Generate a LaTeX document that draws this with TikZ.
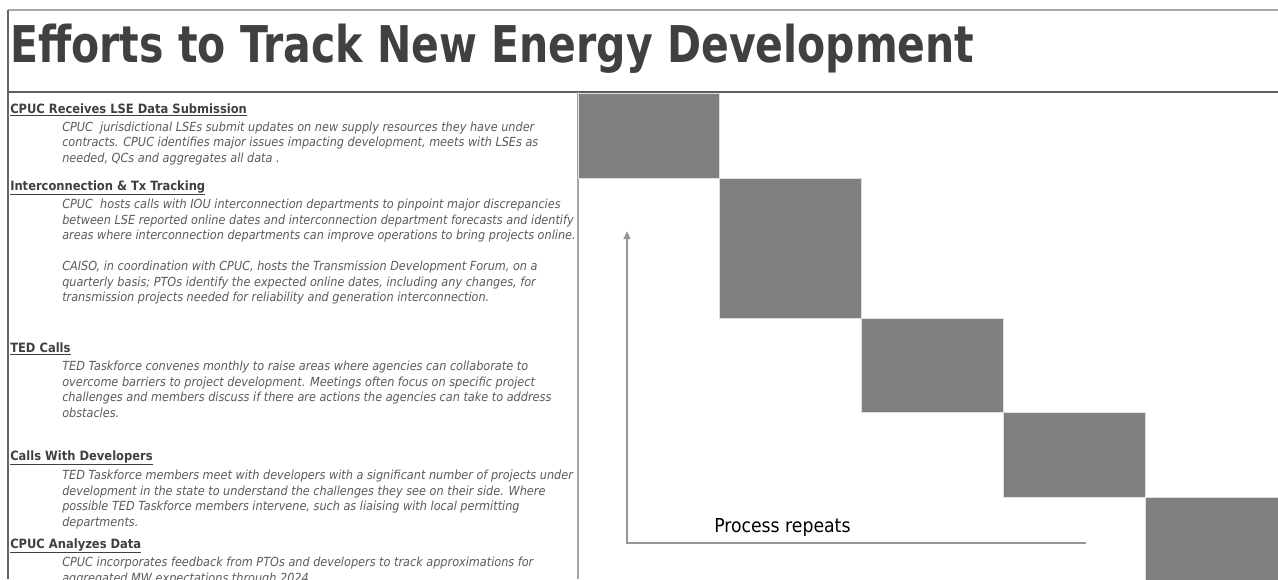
\documentclass[tikz,border=0pt]{standalone}
\usepackage{fontspec}
\setmainfont{DejaVu Sans Condensed}[BoldFont={DejaVu Sans Condensed Bold},ItalicFont={DejaVu Sans Condensed Oblique}]
\usetikzlibrary{positioning}
\usetikzlibrary{arrows.meta}
\usepackage{xcolor}
\definecolor{hdgrey}{HTML}{404040}
\definecolor{txtgrey}{HTML}{5A5A5A}
\definecolor{blockgrey}{HTML}{808080}
\definecolor{rulegrey}{HTML}{A6A6A6}

\begin{document}
\begin{tikzpicture}[x=0.75pt,y=-0.75pt,
	head/.style={anchor=base west,inner sep=0pt,text=hdgrey,font=\fontsize{9.6}{11.6}\selectfont\bfseries},
	body/.style={anchor=north west,inner sep=0pt,align=left,text=txtgrey,font=\fontsize{9.4}{11.6}\selectfont\itshape},
	block/.style={fill=blockgrey,draw=gray!25,line width=0.6pt},
	loop/.style={draw=rulegrey!90!black,line width=1.5pt,-{Triangle[length=6pt,width=5pt]}}]
	    \useasboundingbox (0,0) rectangle (1278,579);
	    % frame
	    \draw[rulegrey,line width=1.5pt] (8,10) -- (1278,10);
	    \draw[hdgrey!80,line width=1.2pt] (8,10) -- (8,579);
	    \node(title) [anchor=base west,inner sep=0pt,text=hdgrey,font=\fontsize{38}{40}\selectfont\bfseries] at (10,62) {\scalebox{0.9}[1]{Efforts to Track New Energy Development}};
	    \draw[hdgrey!85,line width=1.5pt] (8,92) -- (1278,92);
	    \draw[rulegrey,line width=0.8pt] (578,92) -- (578,579);
	    % left column
	    \node(recv) [head] at (10,113) {\underline{CPUC Receives LSE Data Submission}};
	    \node(recvtxt) [body] at (62,121.5) {CPUC\ \ jurisdictional LSEs submit updates on new supply resources they have under\\contracts. CPUC identifies major issues impacting development, meets with LSEs as\\needed, QCs and aggregates all data .};
	    \node(itx) [head] at (10,190) {\underline{Interconnection \& Tx Tracking}};
	    \node(itxtxt) [body] at (62,199) {CPUC\ \ hosts calls with IOU interconnection departments to pinpoint major discrepancies\\between LSE reported online dates and interconnection department forecasts and identify\\areas where interconnection departments can improve operations to bring projects online.\\[11.6pt]CAISO, in coordination with CPUC, hosts the Transmission Development Forum, on a\\quarterly basis; PTOs identify the expected online dates, including any changes, for\\transmission projects needed for reliability and generation interconnection.};
	    \node(ted) [head] at (10,352) {\underline{TED Calls}};
	    \node(tedtxt) [body] at (62,361) {TED Taskforce convenes monthly to raise areas where agencies can collaborate to\\overcome barriers to project development. Meetings often focus on specific project\\challenges and members discuss if there are actions the agencies can take to address\\obstacles.};
	    \node(dev) [head] at (10,460) {\underline{Calls With Developers}};
	    \node(devtxt) [body] at (62,470) {TED Taskforce members meet with developers with a significant number of projects under\\development in the state to understand the challenges they see on their side. Where\\possible TED Taskforce members intervene, such as liaising with local permitting\\departments.};
	    \node(anl) [head] at (10,548) {\underline{CPUC Analyzes Data}};
	    \node(anltxt) [body] at (62,557) {CPUC incorporates feedback from PTOs and developers to track approximations for\\aggregated MW expectations through 2024.};
	    % schedule
	    \foreach \xa/\ya/\xb/\yb in {578/93/719/178, 719/178/861/318, 861/318/1003/412, 1003/412/1145/497, 1145/497/1290/590}
	        \draw[block] (\xa,\ya) rectangle (\xb,\yb);
	    \coordinate(loopend) at (1086,543);
	    \coordinate(corner) at (627,543);
	    \coordinate(looptip) at (627,231);
	    \draw[loop] (loopend) -- (corner) -- (looptip);
	    \node(rep) [anchor=base west,inner sep=0pt,font=\fontsize{14.4}{16}\selectfont] at (714,532) {Process repeats};
	  \end{tikzpicture}
\end{document}
